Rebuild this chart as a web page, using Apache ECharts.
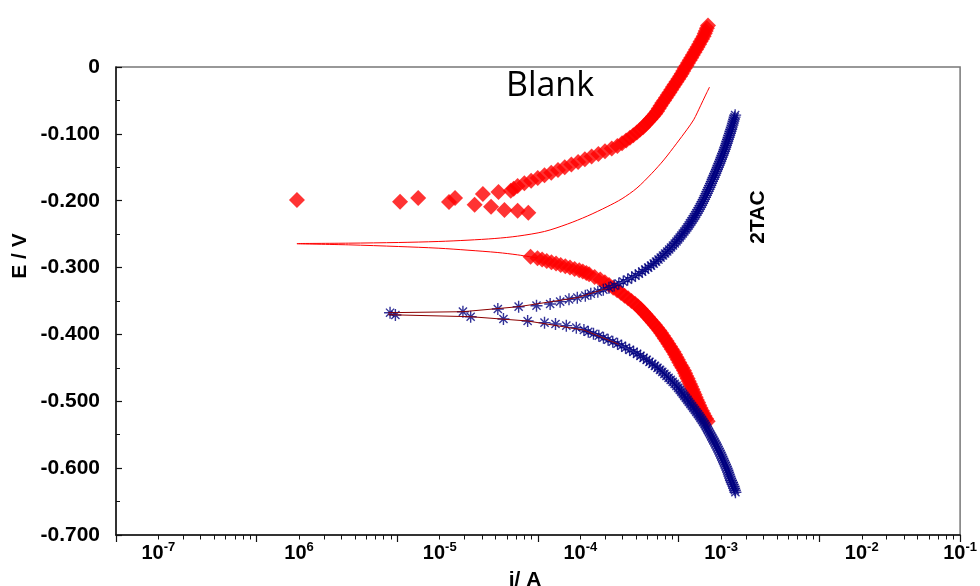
<!DOCTYPE html>
<html>
<head>
<meta charset="utf-8">
<script src="https://cdn.jsdelivr.net/npm/echarts@6/dist/echarts.min.js"></script>
<style>
  html, body { margin: 0; background: #fff; }
  #chart { width: 980px; height: 586px; }
</style>
</head>
<body>
<div id="chart"></div>
<script>
// Tafel plot values: log10(i / A) and E / V

// Blank, anodic branch (scattered points near Ecorr, then the dense scan)
const blankAnodicLogI = [-5.714, -4.981, -4.852, -4.633, -4.590, -4.451, -4.392, -4.334, -4.281, -4.239, -4.145, -4.069, -4.194,
  -4.173, -4.145, -4.097, -4.049, -4.002, -3.954, -3.906, -3.858, -3.810, -3.763, -3.715, -3.667, -3.619, -3.571, -3.524, -3.476,
  -3.436, -3.403, -3.374, -3.347, -3.323, -3.298, -3.276, -3.254, -3.236, -3.218, -3.201, -3.184, -3.167, -3.154, -3.142, -3.129,
  -3.117, -3.104, -3.091, -3.078, -3.066, -3.053, -3.041, -3.029, -3.016, -3.003, -2.990, -2.979, -2.968, -2.957, -2.945, -2.934,
  -2.922, -2.911, -2.900, -2.888, -2.877, -2.866, -2.855, -2.845, -2.834, -2.823, -2.815, -2.808, -2.800, -2.792]
const blankAnodicE = [-0.199, -0.2015, -0.196, -0.202, -0.196, -0.206, -0.190, -0.209, -0.187, -0.214, -0.215, -0.218, -0.185,
  -0.182, -0.178, -0.174, -0.170, -0.166, -0.162, -0.158, -0.154, -0.150, -0.146, -0.142, -0.138, -0.134, -0.130, -0.126, -0.122,
  -0.118, -0.114, -0.110, -0.106, -0.102, -0.098, -0.094, -0.090, -0.086, -0.082, -0.078, -0.074, -0.070, -0.066, -0.062, -0.058,
  -0.054, -0.050, -0.046, -0.042, -0.038, -0.034, -0.030, -0.026, -0.022, -0.018, -0.014, -0.010, -0.006, -0.002, 0.002, 0.006,
  0.010, 0.014, 0.018, 0.022, 0.026, 0.030, 0.034, 0.038, 0.042, 0.046, 0.050, 0.054, 0.058, 0.062]

// Blank, cathodic branch
const blankCathodicLogI = [-4.053, -4.004, -3.971, -3.938, -3.905, -3.872, -3.839, -3.806, -3.773, -3.740, -3.707, -3.682, -3.657,
  -3.637, -3.598, -3.558, -3.525, -3.495, -3.466, -3.438, -3.410, -3.385, -3.360, -3.336, -3.311, -3.291, -3.271, -3.253, -3.236,
  -3.219, -3.202, -3.185, -3.169, -3.154, -3.138, -3.125, -3.112, -3.099, -3.086, -3.074, -3.061, -3.049, -3.037, -3.026, -3.016,
  -3.006, -2.996, -2.985, -2.974, -2.963, -2.954, -2.946, -2.937, -2.929, -2.920, -2.912, -2.903, -2.895, -2.887, -2.879, -2.871,
  -2.862, -2.854, -2.845, -2.835, -2.826, -2.816, -2.805, -2.794]
const blankCathodicE = [-0.284, -0.286, -0.288, -0.290, -0.292, -0.294, -0.296, -0.298, -0.300, -0.302, -0.304, -0.306, -0.308,
  -0.310, -0.314, -0.318, -0.322, -0.326, -0.330, -0.334, -0.338, -0.342, -0.346, -0.350, -0.354, -0.358, -0.362, -0.366, -0.370,
  -0.374, -0.378, -0.382, -0.386, -0.390, -0.394, -0.398, -0.402, -0.406, -0.410, -0.414, -0.418, -0.422, -0.426, -0.430, -0.434,
  -0.438, -0.442, -0.446, -0.450, -0.454, -0.458, -0.462, -0.466, -0.470, -0.474, -0.478, -0.482, -0.486, -0.490, -0.494, -0.498,
  -0.502, -0.506, -0.510, -0.514, -0.518, -0.522, -0.526, -0.530]

// Blank, fitted curve (thin line)
const blankFitUpperLogI = [-5.714, -5.346, -4.993, -4.710, -4.498, -4.307, -4.145, -3.954, -3.792, -3.650, -3.509, -3.403, -3.297,
  -3.191, -3.106, -3.014, -2.943, -2.894, -2.845, -2.809, -2.781]
const blankFitUpperE = [-0.264, -0.2635, -0.2625, -0.261, -0.259, -0.2565, -0.253, -0.246, -0.235, -0.223, -0.209, -0.197, -0.181,
  -0.159, -0.139, -0.114, -0.094, -0.079, -0.058, -0.042, -0.030]
const blankFitLowerLogI = [-5.714, -5.346, -4.993, -4.710, -4.498, -4.286, -4.145, -4.004]
const blankFitLowerE = [-0.2645, -0.266, -0.2685, -0.271, -0.274, -0.2775, -0.281, -0.2857]

// 2TAC, anodic branch
const tacAnodicLogI = [-5.052, -4.534, -4.286, -4.138, -4.011, -3.914, -3.843, -3.780, -3.721,
  -3.664, -3.625, -3.575, -3.536, -3.496, -3.459, -3.426, -3.394, -3.363, -3.334, -3.308, -3.283, -3.260, -3.238, -3.217, -3.197,
  -3.178, -3.161, -3.144, -3.128, -3.112, -3.097, -3.082, -3.068, -3.055, -3.041, -3.028, -3.016, -3.005, -2.993, -2.982, -2.971,
  -2.960, -2.949, -2.939, -2.929, -2.920, -2.910, -2.901, -2.892, -2.883, -2.875, -2.866, -2.858, -2.850, -2.843, -2.835, -2.828,
  -2.821, -2.814, -2.808, -2.801, -2.795, -2.789, -2.782, -2.776, -2.770, -2.764, -2.758, -2.752, -2.745, -2.740, -2.734, -2.728,
  -2.722, -2.717, -2.711, -2.705, -2.700, -2.695, -2.689, -2.684, -2.678, -2.673, -2.669, -2.664, -2.659, -2.655, -2.650, -2.645,
  -2.641, -2.636, -2.632, -2.627, -2.623, -2.618, -2.615, -2.611, -2.607, -2.603, -2.599]
const tacAnodicE = [-0.3675, -0.366, -0.362, -0.3585, -0.357, -0.3545, -0.351, -0.3475, -0.345,
  -0.342, -0.339, -0.336, -0.333, -0.330, -0.327, -0.324, -0.321, -0.318, -0.315, -0.312, -0.309, -0.306, -0.303, -0.300, -0.297,
  -0.294, -0.291, -0.288, -0.285, -0.282, -0.279, -0.276, -0.273, -0.270, -0.267, -0.264, -0.261, -0.258, -0.255, -0.252, -0.249,
  -0.246, -0.243, -0.240, -0.237, -0.234, -0.231, -0.228, -0.225, -0.222, -0.219, -0.216, -0.213, -0.210, -0.207, -0.204, -0.201,
  -0.198, -0.195, -0.192, -0.189, -0.186, -0.183, -0.180, -0.177, -0.174, -0.171, -0.168, -0.165, -0.162, -0.159, -0.156, -0.153,
  -0.150, -0.147, -0.144, -0.141, -0.138, -0.135, -0.132, -0.129, -0.126, -0.123, -0.120, -0.117, -0.114, -0.111, -0.108, -0.105,
  -0.102, -0.099, -0.096, -0.093, -0.090, -0.087, -0.084, -0.081, -0.078, -0.075, -0.072]

// 2TAC, cathodic branch
const tacCathodicLogI = [-5.014, -4.479, -4.246, -4.074, -3.954, -3.876, -3.799, -3.728, -3.674,
  -3.643, -3.606, -3.568, -3.535, -3.502, -3.469, -3.435, -3.406, -3.378, -3.349, -3.321, -3.296, -3.272, -3.250, -3.228, -3.208,
  -3.188, -3.169, -3.151, -3.133, -3.117, -3.102, -3.087, -3.072, -3.057, -3.043, -3.029, -3.016, -3.004, -2.992, -2.981, -2.970,
  -2.960, -2.949, -2.938, -2.928, -2.917, -2.906, -2.896, -2.885, -2.875, -2.864, -2.854, -2.845, -2.835, -2.826, -2.816, -2.808,
  -2.800, -2.793, -2.785, -2.777, -2.769, -2.761, -2.754, -2.746, -2.739, -2.731, -2.724, -2.717, -2.710, -2.703, -2.697, -2.691,
  -2.685, -2.678, -2.672, -2.666, -2.660, -2.654, -2.649, -2.644, -2.640, -2.635, -2.629, -2.623, -2.617, -2.610, -2.606, -2.601,
  -2.597]
const tacCathodicE = [-0.3709, -0.3735, -0.3769, -0.3799, -0.3824, -0.3844, -0.3869, -0.3899, -0.3934,
  -0.396, -0.399, -0.402, -0.405, -0.408, -0.411, -0.414, -0.417, -0.420, -0.423, -0.426, -0.429, -0.432, -0.435, -0.438, -0.441,
  -0.444, -0.447, -0.450, -0.453, -0.456, -0.459, -0.462, -0.465, -0.468, -0.471, -0.474, -0.477, -0.480, -0.483, -0.486, -0.489,
  -0.492, -0.495, -0.498, -0.501, -0.504, -0.507, -0.510, -0.513, -0.516, -0.519, -0.522, -0.525, -0.528, -0.531, -0.534, -0.537,
  -0.540, -0.543, -0.546, -0.549, -0.552, -0.555, -0.558, -0.561, -0.564, -0.567, -0.570, -0.573, -0.576, -0.579, -0.582, -0.585,
  -0.588, -0.591, -0.594, -0.597, -0.600, -0.603, -0.606, -0.609, -0.612, -0.615, -0.618, -0.621, -0.624, -0.627, -0.630, -0.633,
  -0.636]

// 2TAC, fitted curve (thin dark red line)
const tacFitUpperLogI = [-5.065, -4.534, -4.138, -3.721, -3.523]
const tacFitUpperE = [-0.3675, -0.366, -0.3585, -0.345, -0.332]
const tacFitLowerLogI = [-5.065, -4.479, -4.074, -3.674, -3.424]
const tacFitLowerE = [-0.3705, -0.3735, -0.3799, -0.3934, -0.4150]

// x tick labels sit at 2·10^n in the original figure (its "10^6" misprint kept)
const xLabelLogI = [-6.699, -5.699, -4.699, -3.699, -2.699, -1.699, -1]
const xLabelExp = ['-7', '6', '-5', '-4', '-3', '-2', '-1']

const FONT = '"Liberation Sans", Arial, sans-serif'
const pts = (ls, es) => ls.map((l, k) => [l, es[k]])

const majorTicks = []
const minorTicks = []
for (let n = -7; n <= -1; n++) {
  majorTicks.push(n)
  if (n < -1) for (let k = 2; k <= 9; k++) minorTicks.push(n + Math.log10(k))
}

function xLabel(v) {
  const k = xLabelLogI.findIndex((p) => Math.abs(p - v) < 1e-6)
  return k < 0 ? '' : '{b|10}{s|' + xLabelExp[k] + '}'
}

const asterisk = 'path://M5 0V10M0 5H10M1.6 1.6L8.4 8.4M8.4 1.6L1.6 8.4'
const red = '#ff0000'
const navy = '#000080'

const chart = echarts.init(document.getElementById('chart'), null, { renderer: 'canvas' })

chart.setOption({
  animation: false,
  backgroundColor: '#fff',
  grid: { left: 116, top: 67, right: 15, bottom: 51, show: true, borderColor: '#777', borderWidth: 1.5 },
  xAxis: [
    {
      type: 'value', min: -7, max: -1, position: 'bottom',
      axisLine: { show: true, onZero: false, lineStyle: { color: '#111', width: 1.5 } },
      axisTick: { show: true, customValues: majorTicks, length: 7, lineStyle: { color: '#111', width: 1.2 } },
      axisLabel: {
        customValues: xLabelLogI, formatter: xLabel, margin: 6,
        rich: {
          b: { fontSize: 20, fontWeight: 'bold', fontFamily: FONT, color: '#000', lineHeight: 24 },
          s: { fontSize: 13, fontWeight: 'bold', fontFamily: FONT, color: '#000', lineHeight: 12, verticalAlign: 'top' }
        }
      },
      splitLine: { show: false }
    },
    {
      type: 'value', min: -7, max: -1, position: 'bottom',
      axisLine: { show: false, onZero: false },
      axisTick: { show: true, customValues: minorTicks, length: 4.5, lineStyle: { color: '#111', width: 1 } },
      axisLabel: { show: false },
      splitLine: { show: false }
    }
  ],
  yAxis: {
    type: 'value', min: -0.7, max: 0, interval: 0.1,
    axisLine: { show: true, onZero: false, lineStyle: { color: '#111', width: 1.5 } },
    axisTick: { show: true, inside: true, length: 6, lineStyle: { color: '#111', width: 1.2 } },
    minorTick: { show: true, splitNumber: 2, length: 4, lineStyle: { color: '#111', width: 1 } },
    splitLine: { show: false },
    axisLabel: {
      margin: 16, fontSize: 21, fontWeight: 'bold', fontFamily: FONT, color: '#000',
      padding: [5, 0, 0, 0],
      formatter: (v) => (Math.abs(v) < 1e-9 ? '0' : v.toFixed(3))
    }
  },
  graphic: [
    { type: 'text', x: 550, y: 86, style: { text: 'Blank', fontSize: 34, fontFamily: '"Open Sans", sans-serif', fill: '#000', align: 'center', verticalAlign: 'middle' } },
    { type: 'text', x: 758, y: 217, rotation: Math.PI / 2, style: { text: '2TAC', fontSize: 21, fontWeight: 'bold', fontFamily: FONT, fill: '#000', align: 'center', verticalAlign: 'middle' } },
    { type: 'text', x: 20, y: 256, rotation: Math.PI / 2, style: { text: 'E / V', fontSize: 21, fontWeight: 'bold', fontFamily: FONT, fill: '#000', align: 'center', verticalAlign: 'middle' } },
    { type: 'text', x: 525, y: 580, style: { text: 'i/ A', fontSize: 21, fontWeight: 'bold', fontFamily: FONT, fill: '#000', align: 'center', verticalAlign: 'middle' } }
  ],
  series: [
    { name: 'Blank fit', type: 'line', data: pts(blankFitUpperLogI, blankFitUpperE), smooth: 0.3, showSymbol: false, clip: false, lineStyle: { color: red, width: 1 } },
    { name: 'Blank fit', type: 'line', data: pts(blankFitLowerLogI, blankFitLowerE), smooth: 0.3, showSymbol: false, clip: false, lineStyle: { color: red, width: 1 } },
    { name: 'Blank', type: 'scatter', data: pts(blankAnodicLogI, blankAnodicE), symbol: 'diamond', symbolSize: 16, clip: false, itemStyle: { color: red } },
    { name: 'Blank', type: 'scatter', data: pts(blankCathodicLogI, blankCathodicE), symbol: 'diamond', symbolSize: 16, clip: false, itemStyle: { color: red } },
    { name: '2TAC', type: 'scatter', data: pts(tacAnodicLogI, tacAnodicE), symbol: asterisk, symbolSize: 12, clip: false, itemStyle: { color: navy, borderColor: navy, borderWidth: 1.4 } },
    { name: '2TAC', type: 'scatter', data: pts(tacCathodicLogI, tacCathodicE), symbol: asterisk, symbolSize: 12, clip: false, itemStyle: { color: navy, borderColor: navy, borderWidth: 1.4 } },
    { name: '2TAC fit', type: 'line', data: pts(tacFitUpperLogI, tacFitUpperE), showSymbol: false, clip: false, lineStyle: { color: '#8b0000', width: 1 } },
    { name: '2TAC fit', type: 'line', data: pts(tacFitLowerLogI, tacFitLowerE), showSymbol: false, clip: false, lineStyle: { color: '#8b0000', width: 1 } }
  ]
})
</script>
</body>
</html>
